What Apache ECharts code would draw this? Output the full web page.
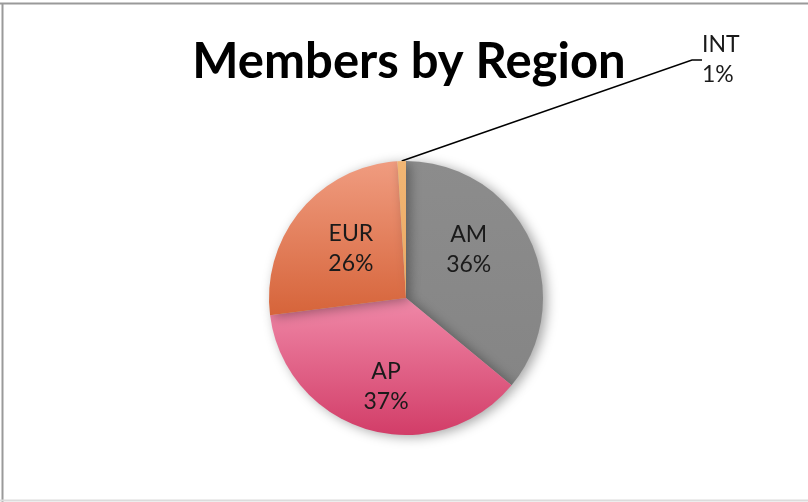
<!DOCTYPE html>
<html>
<head>
<meta charset="utf-8">
<script src="https://cdn.jsdelivr.net/npm/echarts@6/dist/echarts.min.js"></script>
<style>
  html, body { margin: 0; padding: 0; background: #fff; }
  #container { width: 808px; height: 502px; }
</style>
</head>
<body>
<div id="container"></div>
<script>
// data
var regions = ['AM', 'AP', 'EUR', 'INT'];
var members = [36, 37, 26, 1];

var dom = document.getElementById('container');
var myChart = echarts.init(dom, null, { renderer: 'canvas' });

function grad(top, bottom) {
  return new echarts.graphic.LinearGradient(0, 0, 0, 1, [
    { offset: 0, color: top },
    { offset: 1, color: bottom }
  ]);
}

var sliceColors = [
  grad('#8c8c8c', '#858585'),   // AM
  grad('#f089a8', '#d23d68'),   // AP
  grad('#f09c80', '#d6643a'),   // EUR
  grad('#f2b674', '#eba862')    // INT
];

var labelFont = {
  color: '#1a1a1a',
  fontFamily: 'Lato',
  fontSize: 23,
  lineHeight: 30
};

// nudge inner labels a little outward, like the original
var labelShift = [[-2, -18], [0, 20], [0, -4], [0, 0]];

var pieData = regions.map(function (name, i) {
  var item = {
    name: name,
    value: members[i],
    itemStyle: { color: sliceColors[i] }
  };
  if (name === 'INT') {
    item.label = Object.assign({
      show: true,
      position: 'outside',
      align: 'left'
    }, labelFont);
    item.labelLine = {
      show: true,
      length: 10,
      length2: 10,
      lineStyle: { color: '#000', width: 1.5 }
    };
  }
  return item;
});

var option = {
  backgroundColor: '#fff',
  animation: false,
  title: {
    text: 'Members by Region',
    left: 404,
    top: 33,
    textAlign: 'center',
    textStyle: {
      fontFamily: 'Lato',
      fontWeight: 'bold',
      fontSize: 49,
      color: '#000'
    }
  },
  graphic: [
    { type: 'line', shape: { x1: 0, y1: 3.5, x2: 808, y2: 3.5 }, style: { stroke: '#9a9a9a', lineWidth: 2 }, z: 100 },
    { type: 'line', shape: { x1: 2.5, y1: 3, x2: 2.5, y2: 502 }, style: { stroke: '#9a9a9a', lineWidth: 2 }, z: 100 },
    { type: 'line', shape: { x1: 0, y1: 500.5, x2: 808, y2: 500.5 }, style: { stroke: '#dcdcdc', lineWidth: 2 }, z: 100 }
  ],
  series: [
    {
      name: 'Members',
      type: 'pie',
      center: [406, 298],
      radius: 137,
      startAngle: 90,
      clockwise: true,
      avoidLabelOverlap: false,
      itemStyle: {
        shadowBlur: 12,
        shadowOffsetX: 4,
        shadowOffsetY: 2,
        shadowColor: 'rgba(0,0,0,0.35)'
      },
      label: Object.assign({
        show: true,
        position: 'inner',
        formatter: '{b}\n{d}%'
      }, labelFont),
      labelLine: { show: false },
      labelLayout: function (params) {
        var i = params.dataIndex;
        if (i === 3) {
          return { x: 702, y: 60, align: 'left', verticalAlign: 'middle' };
        }
        return { dx: labelShift[i][0], dy: labelShift[i][1] };
      },
      data: pieData
    }
  ]
};

myChart.setOption(option);
window.addEventListener('resize', myChart.resize);
</script>
</body>
</html>
